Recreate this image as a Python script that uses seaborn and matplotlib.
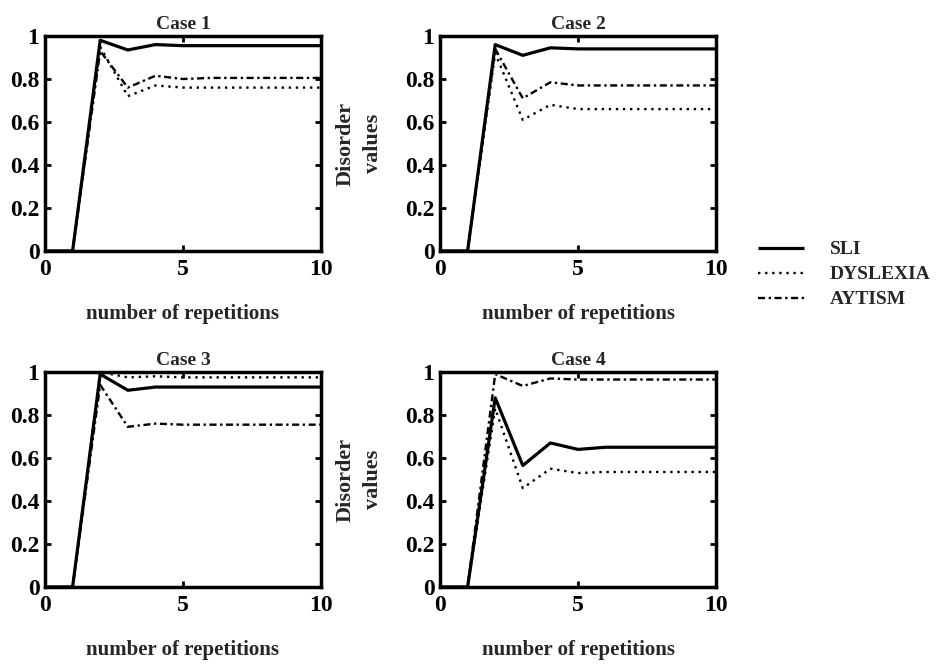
import pandas as pd
import numpy as np
import matplotlib.pyplot as plt
import seaborn as sns

reps = [0, 1, 2, 3, 4, 5, 6, 7, 8, 9, 10]
disorders = ["SLI", "DYSLEXIA", "AYTISM"]
cases = ["Case 1", "Case 2", "Case 3", "Case 4"]

case1_sli = [0, 0, 0.98, 0.935, 0.96, 0.955, 0.955, 0.955, 0.955, 0.955, 0.955]
case1_dys = [0, 0, 0.95, 0.72, 0.77, 0.76, 0.76, 0.76, 0.76, 0.76, 0.76]
case1_aut = [0, 0, 0.93, 0.76, 0.815, 0.80, 0.805, 0.805, 0.805, 0.805, 0.805]

case2_sli = [0, 0, 0.96, 0.91, 0.945, 0.94, 0.94, 0.94, 0.94, 0.94, 0.94]
case2_dys = [0, 0, 0.92, 0.61, 0.68, 0.66, 0.66, 0.66, 0.66, 0.66, 0.66]
case2_aut = [0, 0, 0.94, 0.71, 0.785, 0.77, 0.77, 0.77, 0.77, 0.77, 0.77]

case3_sli = [0, 0, 0.99, 0.915, 0.93, 0.93, 0.93, 0.93, 0.93, 0.93, 0.93]
case3_dys = [0, 0, 1.0, 0.975, 0.98, 0.975, 0.975, 0.975, 0.975, 0.975, 0.975]
case3_aut = [0, 0, 0.94, 0.745, 0.76, 0.755, 0.755, 0.755, 0.755, 0.755, 0.755]

case4_sli = [0, 0, 0.88, 0.565, 0.67, 0.64, 0.65, 0.65, 0.65, 0.65, 0.65]
case4_dys = [0, 0, 0.83, 0.46, 0.55, 0.53, 0.535, 0.535, 0.535, 0.535, 0.535]
case4_aut = [0, 0, 0.99, 0.935, 0.97, 0.965, 0.965, 0.965, 0.965, 0.965, 0.965]

case_values = [
    (case1_sli, case1_dys, case1_aut),
    (case2_sli, case2_dys, case2_aut),
    (case3_sli, case3_dys, case3_aut),
    (case4_sli, case4_dys, case4_aut),
]

rows = []
for case, series in zip(cases, case_values):
    for name, vals in zip(disorders, series):
        for x, y in zip(reps, vals):
            rows.append({"case": case, "disorder": name, "rep": x, "value": y})
df = pd.DataFrame(rows)

sns.set_style("ticks")
plt.rcParams['font.family'] = ['Liberation Serif', 'DejaVu Serif']
plt.rcParams['font.weight'] = 'bold'

styles = {"SLI": (0, ()), "DYSLEXIA": (0, (1, 2)), "AYTISM": (0, (3, 1.5, 1, 1.5))}
widths = {"SLI": 2.3, "DYSLEXIA": 1.7, "AYTISM": 1.7}

W, H = 951, 665
fig = plt.figure(figsize=(W / 100, H / 100), dpi=100)
boxes = [(45, 36), (440, 36), (45, 372), (440, 372)]
aw, ah = 276, 215

for i, (case, (px, py)) in enumerate(zip(cases, boxes)):
    ax = fig.add_axes([px / W, 1 - (py + ah) / H, aw / W, ah / H])
    sub = df[df["case"] == case]
    for name in disorders:
        d = sub[sub["disorder"] == name]
        sns.lineplot(data=d, x="rep", y="value", ax=ax, color="black",
                     linestyle=styles[name], linewidth=widths[name], label=name,
                     legend=False)
    ax.set_xlim(0, 10)
    ax.set_ylim(0, 1)
    ax.set_xticks([0, 5, 10])
    ax.set_yticks([0, 0.2, 0.4, 0.6, 0.8, 1])
    ax.set_yticklabels(["0", "0.2", "0.4", "0.6", "0.8", "1"])
    ax.tick_params(direction="in", length=4, width=2, top=True, right=True,
                   labelsize=17, color="black", labelcolor="black")
    ax.tick_params(axis="x", pad=6)
    ax.tick_params(axis="y", pad=4)
    for lab in ax.get_xticklabels() + ax.get_yticklabels():
        lab.set_fontweight("bold")
    for s in ax.spines.values():
        s.set_linewidth(2.5)
        s.set_color("black")
    ax.set_title(case, fontsize=14, fontweight="bold", pad=5)
    ax.set_xlabel("number of repetitions", fontsize=15, fontweight="bold", labelpad=17)
    if i % 2 == 1:
        ax.set_ylabel("Disorder\nvalues", fontsize=16, fontweight="bold",
                      labelpad=16, linespacing=1.5)
    else:
        ax.set_ylabel("")
    if i == 0:
        handles, labels = ax.get_legend_handles_labels()

fig.legend(handles, labels, loc="upper left", bbox_to_anchor=(750 / W, 1 - 233 / H),
           frameon=False, handlelength=2.4, handletextpad=1.3, labelspacing=0.38,
           borderaxespad=0.0, prop={"weight": "bold", "size": 14})

fig.savefig("out.png", dpi=100)
